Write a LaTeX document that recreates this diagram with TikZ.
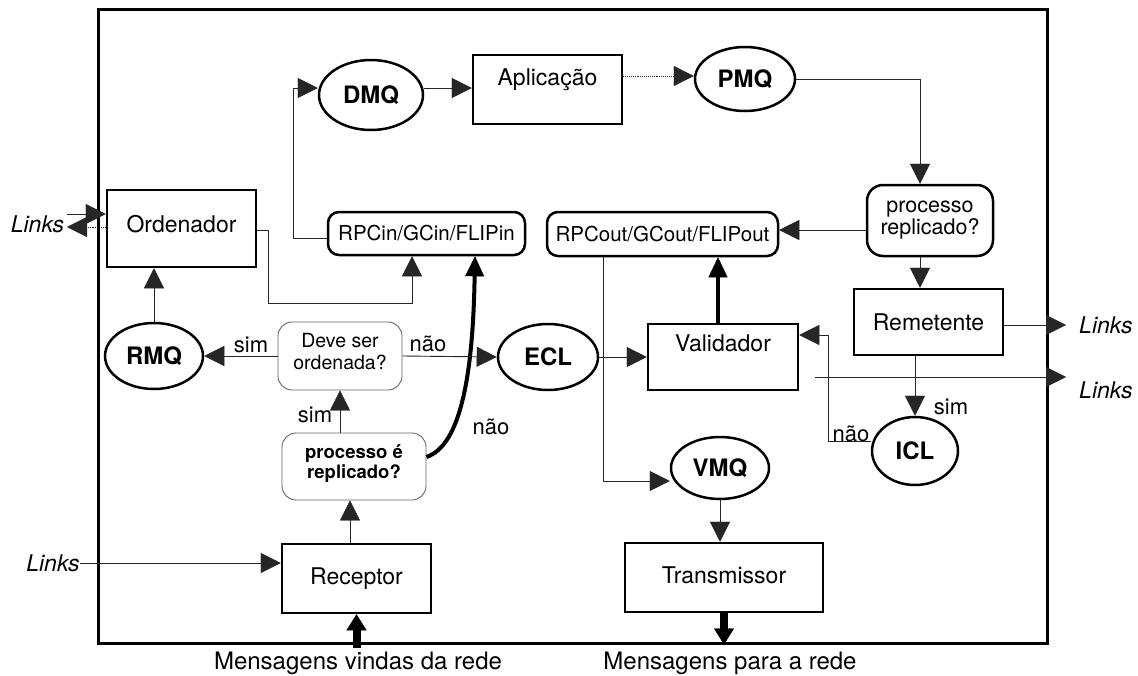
\documentclass[tikz,border=0pt]{standalone}
\usepackage{fontspec}
\setmainfont{TeX Gyre Heros}
\usetikzlibrary{arrows.meta,shapes.geometric}
\newcommand\lblfont{\fontsize{23}{26}\selectfont}
\newcommand\quefont{\fontsize{24}{26}\selectfont\bfseries}
\newcommand\rpcfont{\fontsize{20.5}{23}\selectfont}
\newcommand\notefont{\fontsize{22}{24}\selectfont}
\newcommand\linkfont{\fontsize{23}{26}\selectfont\itshape}
\newcommand\msgfont{\fontsize{24}{26}\selectfont}
\begin{document}
\begin{tikzpicture}[x=1pt,y=-1pt,
  sq/.style={draw, line width=2.5pt, rectangle, inner sep=0pt, font=\lblfont},
  rsq/.style={draw, line width=2.5pt, rounded corners=11pt, inner sep=0pt, align=center},
  ask/.style={draw=black!60, line width=0.9pt, rounded corners=14pt, inner sep=0pt, align=center},
  queue/.style={draw, ellipse, line width=2.5pt, inner sep=0pt, font=\quefont},
  headed/.style={-{Triangle[length=20pt,width=20pt,line width=0.4pt]}},
  wire/.style={line width=0.9pt, draw=black!85, headed},
  bold wire/.style={line width=4pt, -{Triangle[length=20pt,width=19pt,line width=0.4pt]}},
  net/.style={line width=8pt, -{Triangle[length=16pt,width=20pt,line width=0.4pt]}},
  note/.style={font=\notefont, inner sep=0pt},
  link/.style={font=\linkfont, inner sep=0pt},
]
\useasboundingbox (0,0) rectangle (1138,675);
\fill[white] (0,0) rectangle (1138,675);

% outer frame of the node
\node[draw, line width=3pt, minimum width=949pt, minimum height=634pt] (frame) at (572.5,326) {};

% processing blocks and queues
\node[sq, minimum width=149pt, minimum height=77pt, text depth=9pt] (ord) at (181.5,228.5) {Ordenador};
\node[queue, minimum width=104pt, minimum height=70pt] (dmq) at (371,95) {DMQ};
\node[sq, minimum width=149pt, minimum height=69pt, text depth=25pt] (apl) at (547.5,89.5) {Aplicação};
\node[queue, minimum width=100pt, minimum height=64pt] (pmq) at (745,79) {PMQ};
\node[rsq, font=\rpcfont, minimum width=197pt, minimum height=43pt] (rpcin) at (426.5,233.5) {RPCin/GCin/FLIPin};
\node[rsq, font=\rpcfont, minimum width=231pt, minimum height=44pt] (rpcout) at (662.5,234) {RPCout/GCout/FLIPout};
\node[rsq, rounded corners=16pt, font=\fontsize{21.5}{19}\selectfont, minimum width=126pt, minimum height=71pt, text depth=6pt] (prep) at (930,220.5) {processo\\replicado?};
\node[sq, minimum width=149pt, minimum height=66pt] (rem) at (928.5,322) {Remetente};
\node[sq, minimum width=150pt, minimum height=66pt, text depth=28pt] (val) at (723,357) {Validador};
\node[queue, minimum width=98pt, minimum height=66pt] (rmq) at (154,356) {RMQ};
\node[ask, font=\fontsize{19.5}{22}\selectfont, minimum width=124pt, minimum height=68pt, text depth=10pt] (deve) at (340,356) {Deve ser\\ordenada?};
\node[queue, minimum width=100pt, minimum height=66pt] (ecl) at (548,357) {ECL};
\node[ask, font=\fontsize{18.5}{20}\selectfont\bfseries, minimum width=144pt, minimum height=67pt, text depth=9pt] (pe) at (354,466.5) {processo é\\replicado?};
\node[sq, minimum width=149pt, minimum height=69pt] (rec) at (356.5,578.5) {Receptor};
\node[queue, minimum width=98pt, minimum height=62pt] (vmq) at (720,468) {VMQ};
\node[sq, minimum width=198pt, minimum height=69pt, text depth=5pt] (tra) at (724,577.5) {Transmissor};
\node[queue, minimum width=86pt, minimum height=68pt] (icl) at (915,451) {ICL};

% external links and network labels
\node[link] (lk1) at (37.5,224) {Links};
\node[link] (lk2) at (53,563) {Links};
\node[link, anchor=west] (lk3) at (1079,325) {Links};
\node[link, anchor=west] (lk4) at (1079,390) {Links};
\node[font=\msgfont, inner sep=0pt] (min) at (358,663) {Mensagens vindas da rede};
\node[font=\msgfont, inner sep=0pt] (mout) at (730,663) {Mensagens para a rede};

\coordinate (lkin) at (67,214);
\coordinate (lkout) at (67,227);
\coordinate (lkr) at (1066,325);
\coordinate (valtap) at (815,377);
\coordinate (lkr2) at (1066,377);
\coordinate (netin) at (356.5,648);

% connectors
\draw[wire] (lkin) -- (ord.west |- lkin);
\draw[wire, densely dotted] (ord.west |- lkout) -- (lkout);
\draw[wire] (rpcin.west |- 0,238) -- (293,238) -- (293,88) -- (dmq.west |- 0,88);
\draw[wire] (ord.east |- 0,230) -- (268,230) -- (268,303) -- (412,303) -- (412,0 |- rpcin.south);
\draw[bold wire] (pe.east |- 0,457) .. controls (462,445) and (473,370) .. (475,0 |- rpcin.south);
\draw[wire] (deve.west) -- (rmq.east);
\draw[wire] (deve.east) -- (ecl.west);
\draw[wire] (340,0 |- pe.north) -- (340,0 |- deve.south);
\draw[wire] (rmq.north) -- (rmq.north |- ord.south);
\draw[wire] (350,0 |- rec.north) -- (350,0 |- pe.south);
\draw[wire] (lk2.east) -- (rec.west |- lk2.east);
\draw[net] (netin) -- (rec.south);
\draw[wire] (dmq.east |- 0,88) -- (apl.west |- 0,88);
\draw[wire, densely dotted] (apl.east |- 0,76) -- (pmq.west |- 0,76);
\draw[wire] (pmq.east) -- (920,0 |- pmq.east) -- (920,0 |- prep.north);
\draw[wire] (prep.west |- 0,230) -- (rpcout.east |- 0,230);
\draw[wire] (920,0 |- prep.south) -- (920,0 |- rem.north);
\draw[wire] (rem.east |- lkr) -- (lkr);
\draw[wire] (915,0 |- rem.south) -- (icl.north);
\draw[wire] (icl.west |- 0,441) -- (828,441) -- (828,335) -- (val.east |- 0,335);
\draw[wire] (ecl.east) -- (val.west);
\draw[bold wire] (718,0 |- val.north) -- (718,0 |- rpcout.south);
\draw[wire] (603,0 |- rpcout.south) -- (603,481) -- (vmq.west |- 0,481);
\draw[wire] (vmq.south) -- (tra.north -| vmq.south);
\draw[net] (tra.south) -- (tra.south |- frame.south);
\draw[wire] (valtap) -- (lkr2);

% decision labels
\node[note] (s1) at (251,345) {sim};
\node[note] (n1) at (428,344) {não};
\node[note] (s2) at (315,415) {sim};
\node[note] (n2) at (491,427) {não};
\node[note] (s3) at (951,407) {sim};
\node[note] (n3) at (851,434) {não};
\end{tikzpicture}
\end{document}
